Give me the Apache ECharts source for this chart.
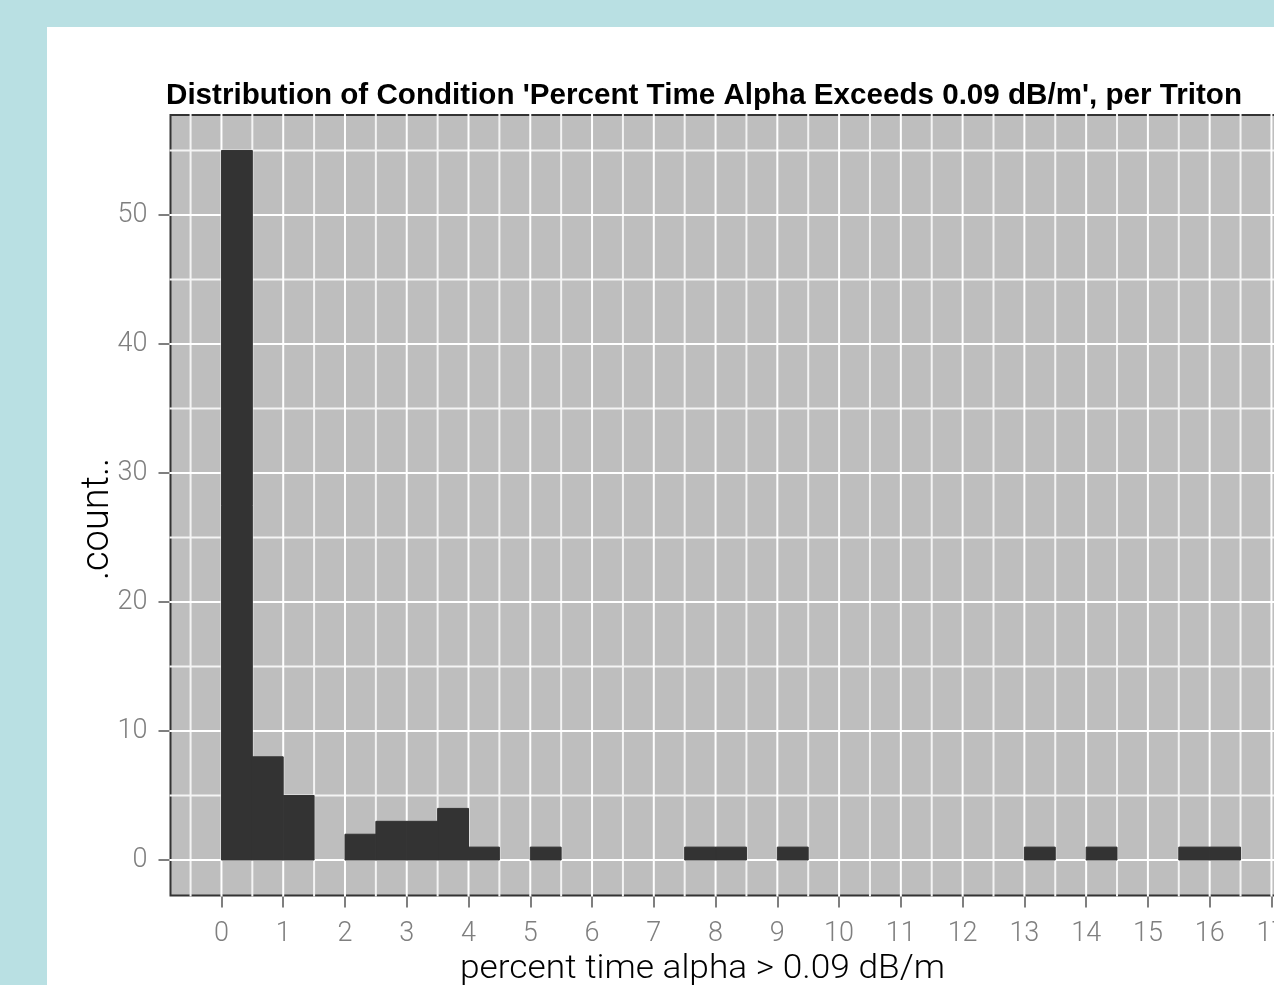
<!DOCTYPE html>
<html><head><meta charset="utf-8">
<script src="https://cdn.jsdelivr.net/npm/echarts@6/dist/echarts.min.js"></script>
<style>
html,body{margin:0;padding:0;width:1274px;height:985px;overflow:hidden;background:#b9e0e3;}
#chart{position:absolute;left:47px;top:27px;width:1400px;height:1000px;background:#ffffff;}
</style></head><body><div id="chart"></div>
<script>
// ---- data ----
const binStarts = [0,0.5,1,1.5,2,2.5,3,3.5,4,4.5,5,5.5,6,6.5,7,7.5,8,8.5,9,9.5,10,10.5,11,11.5,12,12.5,13,13.5,14,14.5,15,15.5,16];
const binWidth = 0.5;
const counts = [55,8,5,0,2,3,3,4,1,0,1,0,0,0,0,1,1,0,1,0,0,0,0,0,0,0,1,0,1,0,0,1,1];
const xTickLabels = [0,1,2,3,4,5,6,7,8,9,10,11,12,13,14,15,16,17];
const yTickLabels = [0,10,20,30,40,50];
const xMinorGrid = [-0.5,0.5,1.5,2.5,3.5,4.5,5.5,6.5,7.5,8.5,9.5,10.5,11.5,12.5,13.5,14.5,15.5,16.5];
const yMinorGrid = [5,15,25,35,45,55];
const titleText = "Distribution of Condition 'Percent Time Alpha Exceeds 0.09 dB/m', per Triton";
const xTitle = "percent time alpha > 0.09 dB/m";
const yTitle = ".count..";
const xRange = [-0.825, 17.325];
const yRange = [-2.75, 57.75];

// ---- helpers ----
const ctx = document.createElement('canvas').getContext('2d');
function measure(text, font){ ctx.font = font; return ctx.measureText(text).width; }
const titleFont = 'bold 29px "Liberation Sans", Arial, sans-serif';
const xTitleFont = '300 34px Roboto, "Liberation Sans", sans-serif';
const yTitleFont = '300 38px Roboto, "Liberation Sans", sans-serif';

const chart = echarts.init(document.getElementById('chart'), null, {renderer:'canvas'});

function gridLineSeries(vals, dir, color, width){
  return {
    type:'custom', silent:true, z:1,
    data: vals.map(v=>[v]),
    renderItem:(params, api)=>{
      const cs = params.coordSys;
      const v = api.value(0);
      if (dir === 'v') {
        const x = api.coord([v, 0])[0];
        return {type:'line', shape:{x1:x, y1:cs.y-1, x2:x, y2:cs.y+cs.height+1}, style:{stroke:color, lineWidth:width}};
      } else {
        const y = api.coord([0, v])[1];
        return {type:'line', shape:{x1:cs.x-1, y1:y, x2:cs.x+cs.width+1, y2:y}, style:{stroke:color, lineWidth:width}};
      }
    }
  };
}

const barData = binStarts.map((s,i)=>[s, s+binWidth, counts[i]]).filter(d=>d[2]>0);
const labelFont = 'Roboto, "Liberation Sans", sans-serif';

const option = {
  animation:false,
  grid:{left:123.5, top:88, width:1121, height:780.5, show:true, backgroundColor:'#bebebe', borderColor:'#333333', borderWidth:2, containLabel:false},
  xAxis:{type:'value', min:xRange[0], max:xRange[1],
    axisLine:{show:false, onZero:false},
    axisTick:{show:true, customValues:xTickLabels, length:12, lineStyle:{color:'#7f7f7f', width:2}},
    axisLabel:{customValues:xTickLabels, color:'#7f7f7f', fontSize:27, fontFamily:labelFont, fontWeight:300, margin:25},
    splitLine:{show:false}},
  yAxis:{type:'value', min:yRange[0], max:yRange[1],
    axisLine:{show:false, onZero:false},
    axisTick:{show:true, customValues:yTickLabels, length:12, lineStyle:{color:'#7f7f7f', width:2}},
    axisLabel:{customValues:yTickLabels, color:'#7f7f7f', fontSize:27, fontFamily:labelFont, fontWeight:300, margin:23, padding:[6,0,0,0]},
    splitLine:{show:false}},
  series:[
    gridLineSeries(xMinorGrid, 'v', '#f4f4f4', 2),
    gridLineSeries(yMinorGrid, 'h', '#f4f4f4', 2),
    gridLineSeries(xTickLabels.filter(v=>v<=xRange[1]), 'v', '#ffffff', 2),
    gridLineSeries(yTickLabels, 'h', '#ffffff', 2),
    {type:'custom', z:3, data:barData,
      renderItem:(params, api)=>{
        const p0 = api.coord([api.value(0), api.value(2)]);
        const p1 = api.coord([api.value(1), 0]);
        return {type:'rect', shape:{x:p0[0], y:p0[1], width:p1[0]-p0[0], height:p1[1]-p0[1]}, style:{fill:'#333333', stroke:'#333333', lineWidth:1}};
      }}
  ],
  graphic:[
    {type:'text', x:119, y:69, scaleX: 1076/measure(titleText, titleFont), z:10,
      style:{text:titleText, font:titleFont, fill:'#000', align:'left', verticalAlign:'middle'}},
    {type:'text', x:413, y:942, scaleX: 485/measure(xTitle, xTitleFont), z:10,
      style:{text:xTitle, font:xTitleFont, fill:'#000', align:'left', verticalAlign:'middle'}},
    {type:'text', x:51, y:492, rotation:Math.PI/2, z:10,
      style:{text:yTitle, font:yTitleFont, fill:'#000', align:'center', verticalAlign:'middle'}}
  ]
};
chart.setOption(option);
</script></body></html>
